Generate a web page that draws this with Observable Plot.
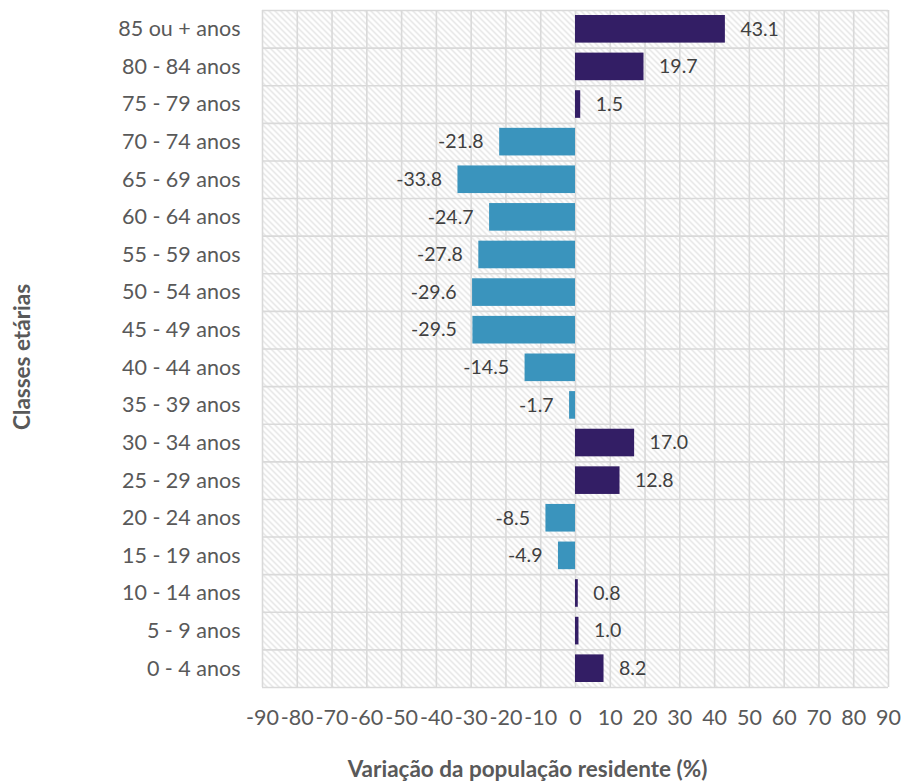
<!DOCTYPE html>
<html>
<head>
<meta charset="utf-8">
<script src="https://cdn.jsdelivr.net/npm/d3@7"></script>
<script src="https://cdn.jsdelivr.net/npm/@observablehq/plot@0.6"></script>
<style>
  html, body { margin: 0; padding: 0; background: #ffffff; }
</style>
</head>
<body>
<div id="chart"></div>
<script>
const categories = ["0 - 4 anos", "5 - 9 anos", "10 - 14 anos", "15 - 19 anos", "20 - 24 anos", "25 - 29 anos", "30 - 34 anos", "35 - 39 anos", "40 - 44 anos", "45 - 49 anos", "50 - 54 anos", "55 - 59 anos", "60 - 64 anos", "65 - 69 anos", "70 - 74 anos", "75 - 79 anos", "80 - 84 anos", "85 ou + anos"];
const values = [8.2, 1.0, 0.8, -4.9, -8.5, 12.8, 17.0, -1.7, -14.5, -29.5, -29.6, -27.8, -24.7, -33.8, -21.8, 1.5, 19.7, 43.1];
const xTicks = [-90, -80, -70, -60, -50, -40, -30, -20, -10, 0, 10, 20, 30, 40, 50, 60, 70, 80, 90];
const xTitle = "Variação da população residente (%)";
const yTitle = "Classes etárias";

const rows = categories.map((c, i) => ({category: c, index: i, value: values[i]}));
const pos = rows.filter(d => d.value >= 0);
const neg = rows.filter(d => d.value < 0);
const fmt = v => v.toFixed(1);
const gridColor = "#d9d9d9";

const svg = Plot.plot({
  width: 904,
  height: 784,
  marginLeft: 262,
  marginRight: 16,
  marginTop: 10,
  marginBottom: 97,
  style: {fontFamily: "Lato, 'Open Sans', sans-serif", fontSize: "21px", color: "#595959", background: "#ffffff"},
  x: {domain: [-90, 90], label: null},
  y: {domain: [0, categories.length], label: null},
  marks: [
    Plot.frame({fill: "url(#hatch)", stroke: "none"}),
    Plot.ruleX(xTicks, {stroke: gridColor, strokeWidth: 1.6}),
    Plot.ruleY(d3.range(categories.length + 1), {stroke: gridColor, strokeWidth: 1.6}),
    Plot.rectX(rows, {
      x1: 0, x2: "value",
      y1: "index", y2: d => d.index + 1,
      insetTop: 5, insetBottom: 5,
      fill: d => d.value >= 0 ? "#331e65" : "#3a94bd"
    }),
    Plot.text(pos, {x: "value", y: d => d.index + 0.5, text: d => fmt(d.value), dx: 15, textAnchor: "start", fill: "#404040", fontSize: 19.5}),
    Plot.text(neg, {x: "value", y: d => d.index + 0.5, text: d => fmt(d.value), dx: -16, textAnchor: "end", fill: "#404040", fontSize: 19.5}),
    Plot.axisY({
      ticks: d3.range(categories.length).map(i => i + 0.5),
      tickFormat: t => categories[Math.floor(t)],
      tickSize: 0, tickPadding: 22, fontSize: 21.5, label: null
    }),
    Plot.axisX({ticks: xTicks, tickFormat: d => String(d), tickSize: 0, tickPadding: 22, fontSize: 21.5, label: null}),
    Plot.text([xTitle], {frameAnchor: "bottom", dy: 89, dx: -48, textAnchor: "middle", fontWeight: "bold", fontSize: 22.5, fill: "#595959"}),
    Plot.text([yTitle], {frameAnchor: "left", dx: -240, dy: 8, rotate: -90, textAnchor: "middle", fontWeight: "bold", fontSize: 22.5, fill: "#595959"})
  ]
});

const defs = d3.select(svg).insert("defs", ":first-child");
const pat = defs.append("pattern")
  .attr("id", "hatch")
  .attr("patternUnits", "userSpaceOnUse")
  .attr("width", 6).attr("height", 6);
pat.append("rect").attr("width", 6).attr("height", 6).attr("fill", "#ffffff");
pat.append("path")
  .attr("d", "M-1,-1 L7,7 M-1,5 L1,7 M5,-1 L7,1")
  .attr("stroke", "#dadada")
  .attr("stroke-width", 1.1)
  .attr("fill", "none");

document.getElementById("chart").appendChild(svg);
</script>
</body>
</html>
